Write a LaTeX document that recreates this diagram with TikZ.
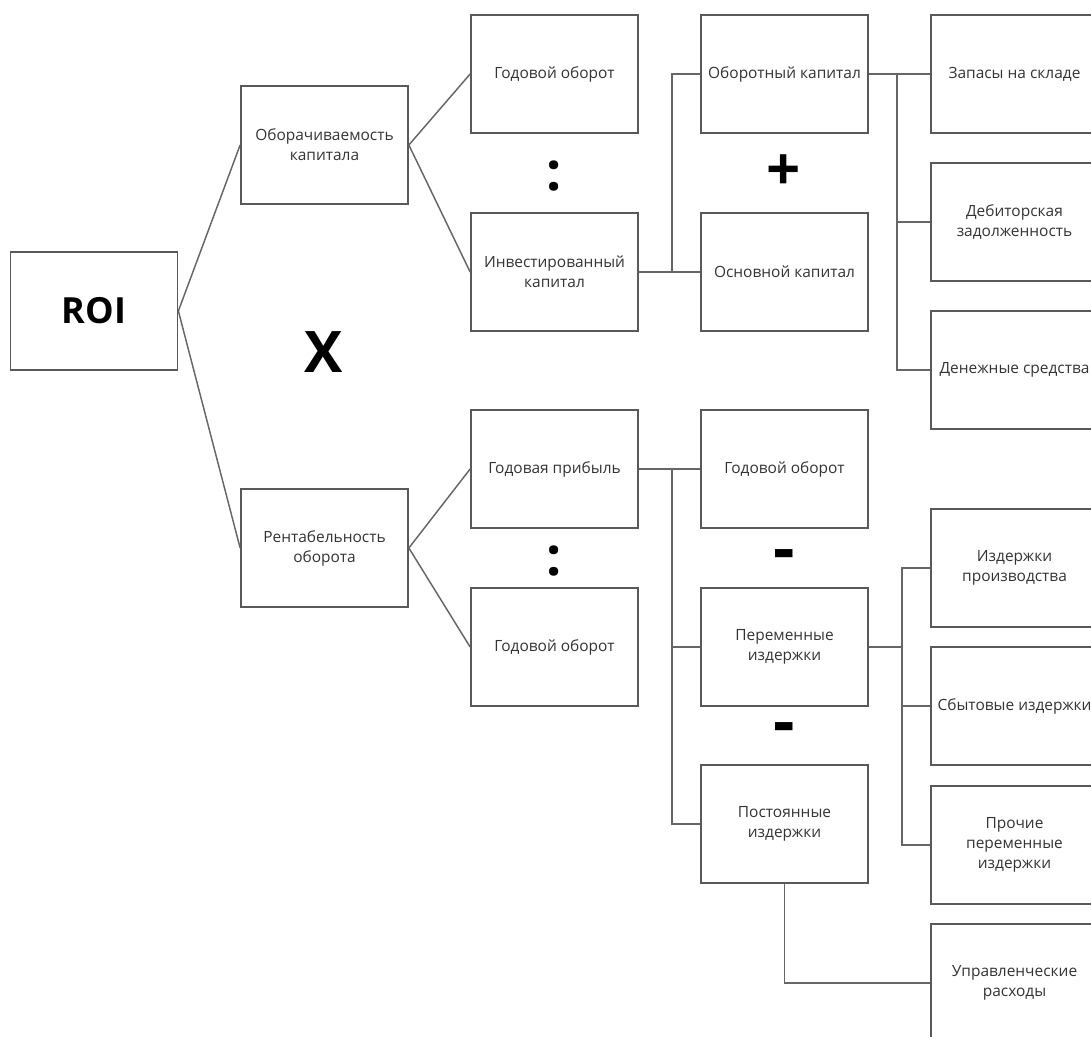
\documentclass[tikz,border=0pt]{standalone}
\usepackage{fontspec}
\setmainfont{Open Sans}
\tikzset{every picture/.style={line width=0.75pt}}
\tikzset{
  box/.style={draw=black!65, line width=1.3pt, minimum width=125.25pt, minimum height=88.5pt, inner sep=2pt, align=center, text=black!80, font=\fontsize{11.6}{15}\selectfont},
  link/.style={draw=black!60, line width=1.1pt},
  sign/.style={inner sep=0pt, font=\bfseries\fontsize{40}{40}\selectfont}
}
\begin{document}
\begin{tikzpicture}[x=0.75pt,y=0.75pt,yscale=-1,xscale=1]
\path[use as bounding box] (0,0) rectangle (1091,1037);
\clip (0,0) rectangle (1091,1037);

% Text Node
\node [box, font=\bfseries\fontsize{27}{30}\selectfont, text=black] (roi) at (94,311) {ROI};
% Text Node
\node [box] (oborach) at (324.5,145) {Оборачиваемость\\капитала};
\node [box] (rentab) at (324.5,548) {Рентабельность\\оборота};
% Text Node
\node [box] (godob1) at (554.5,74) {Годовой оборот};
\node [box] (invest) at (554.5,272) {Инвестированный\\капитал};
\node [box] (pribyl) at (554.5,469) {Годовая прибыль};
\node [box] (godob2) at (554.5,647) {Годовой оборот};
% Text Node
\node [box] (oborotn) at (784.5,74) {Оборотный капитал};
\node [box] (osnov) at (784.5,272) {Основной капитал};
\node [box] (godob3) at (784.5,469) {Годовой оборот};
\node [box] (perem) at (784.5,647) {Переменные\\издержки};
\node [box] (postoyan) at (784.5,824) {Постоянные\\издержки};
% Text Node
\node [box] (zapasy) at (1014.5,74) {Запасы на складе};
\node [box] (debitor) at (1014.5,222) {Дебиторская\\задолженность};
\node [box] (dengi) at (1014.5,370) {Денежные средства};
\node [box] (izdproizv) at (1014.5,568) {Издержки\\производства};
\node [box] (sbyt) at (1014.5,706) {Сбытовые издержки};
\node [box] (prochie) at (1014.5,845) {Прочие\\переменные\\издержки};
\node [box] (upravl) at (1014.5,983) {Управленческие\\расходы};

% Signs
\node [sign, font=\bfseries\fontsize{43}{43}\selectfont] (times) at (324,352) {X};
\node [sign] (div1) at (554,176) {:};
\node [sign] (div2) at (554,561) {:};
\node [sign, font=\bfseries\fontsize{45}{45}\selectfont] (plus) at (784,173) {+};
\node [sign, font=\bfseries\fontsize{50}{50}\selectfont] (minus1) at (784,561) {-};
\node [sign, font=\bfseries\fontsize{50}{50}\selectfont] (minus2) at (784,734) {-};

% Connection
\draw [link] (roi.east) -- (oborach.west);
\draw [link] (roi.east) -- (rentab.west);
\draw [link] (oborach.east) -- (godob1.west);
\draw [link] (oborach.east) -- (invest.west);
\draw [link] (rentab.east) -- (pribyl.west);
\draw [link] (rentab.east) -- (godob2.west);

% Connection
\coordinate (j1) at (672,272);
\draw [link] (invest.east) -- (osnov.west);
\draw [link] (j1) |- (oborotn.west);

% Connection
\coordinate (j2) at (897,74);
\draw [link] (oborotn.east) -- (zapasy.west);
\draw [link] (j2) |- (debitor.west);
\draw [link] (j2) |- (dengi.west);

% Connection
\coordinate (j3) at (672,469);
\draw [link] (pribyl.east) -- (godob3.west);
\draw [link] (j3) |- (perem.west);
\draw [link] (j3) |- (postoyan.west);

% Connection
\coordinate (j4) at (902,647);
\draw [link] (perem.east) -- (j4);
\draw [link] (j4) |- (izdproizv.west);
\draw [link] (j4) |- (sbyt.west);
\draw [link] (j4) |- (prochie.west);

% Connection
\draw [link] (postoyan.south) |- (upravl.west);

\end{tikzpicture}
\end{document}
